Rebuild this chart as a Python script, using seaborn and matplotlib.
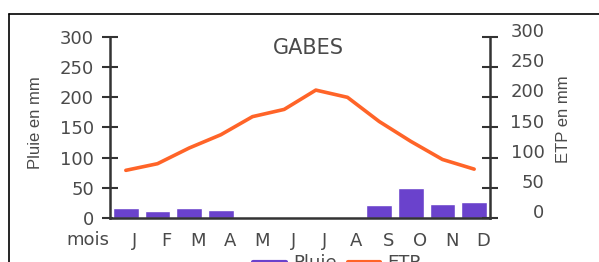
import numpy as np
import pandas as pd
import seaborn as sns
import matplotlib.pyplot as plt
from matplotlib.lines import Line2D
from matplotlib.transforms import ScaledTranslation

months = ['J', 'F', 'M', 'A', 'M', 'J', 'J', 'A', 'S', 'O', 'N', 'D']
pluie = [17, 12, 16, 13, 0, 0, 0, 0, 21, 49, 23, 26]
etp = [79, 90, 116, 138, 168, 180, 212, 200, 160, 127, 97, 81]
yticks = [0, 50, 100, 150, 200, 250, 300]

df = pd.DataFrame({'pos': np.arange(12), 'Pluie': pluie, 'ETP': etp})

sns.set_theme(style='white')
plt.rcParams['font.family'] = ['DejaVu Sans']

txt = '#4a4a4a'
axc = '#333333'
purple = '#6a42cc'
orange = '#ff6428'

fig = plt.figure(figsize=(5.99, 2.62), dpi=100)
ax = fig.add_axes([110 / 599, 1 - 218 / 262, 380 / 599, 181 / 262])

sns.barplot(data=df, x='pos', y='Pluie', color=purple, width=0.82,
            saturation=1, ax=ax)
sns.lineplot(data=df, x='pos', y='ETP', color=orange, linewidth=2.6, ax=ax)

ax.set_xlim(-0.5, 11.5)
ax.set_ylim(0, 300)
ax.set_xlabel('')
ax.set_ylabel('')
for s in ['top', 'right']:
    ax.spines[s].set_visible(False)
for s in ['left', 'bottom']:
    ax.spines[s].set_color(axc)
    ax.spines[s].set_linewidth(1.8)

ax.set_yticks(yticks)
ax.set_yticklabels([str(v) for v in yticks])
ax.tick_params(axis='y', direction='inout', length=11, width=1.5, color=axc,
               labelsize=13, labelcolor=txt, pad=6)

ax.set_xticks(np.arange(12) + 0.5)
ax.set_xticklabels([])
ax.tick_params(axis='x', which='major', direction='inout', length=6, width=1,
               color='#666666')
ax.set_xticks(np.arange(12), minor=True)
ax.set_xticklabels(months, minor=True)
ax.tick_params(axis='x', which='minor', length=0, labelsize=13,
               labelcolor=txt, pad=10)
for lab in ax.get_xticklabels(minor=True):
    lab.set_transform(lab.get_transform() +
                      ScaledTranslation(0.09, 0, fig.dpi_scale_trans))

ax2 = ax.twinx()
ax2.set_ylim(0, 300)
ax2.set_yticks(yticks)
ax2.set_yticklabels([str(v) for v in yticks])
for s in ['top', 'left', 'bottom']:
    ax2.spines[s].set_visible(False)
ax2.spines['right'].set_color(axc)
ax2.spines['right'].set_linewidth(1.8)
ax2.tick_params(axis='y', direction='inout', length=11, width=1.5, color=axc,
                labelsize=13, labelcolor=txt, pad=2)
for lab in ax2.get_yticklabels():
    lab.set_horizontalalignment('right')
    lab.set_transform(lab.get_transform() +
                      ScaledTranslation(0.44, 0.07, fig.dpi_scale_trans))

ax.set_title('GABES', color=txt, fontsize=15, x=0.521, y=0.86)

narrow = ['Liberation Sans', 'DejaVu Sans']
fig.text(35 / 599, 1 - 123 / 262, 'Pluie en mm', rotation=90, ha='center',
         va='center', color=txt, fontsize=12, family=narrow)
fig.text(563 / 599, 1 - 119 / 262, 'ETP en mm', rotation=90, ha='center',
         va='center', color=txt, fontsize=12, family=narrow)
fig.text(88 / 599, 1 - 240 / 262, 'mois', ha='center', va='center',
         color=txt, fontsize=13)

handles = [Line2D([], [], color=purple, lw=3), Line2D([], [], color=orange, lw=3)]
fig.legend(handles, ['Pluie', 'ETP'], loc='upper center', ncol=2,
           bbox_to_anchor=(337 / 599, 1 - 245 / 262), frameon=False,
           fontsize=13, labelcolor=txt, handlelength=1.8, handletextpad=0.4,
           columnspacing=0.6, borderpad=0)

# cadre du document scanne
fig.add_artist(Line2D([9 / 599, 1], [1 - 14 / 262, 1 - 14 / 262],
                      color='black', lw=1.2, transform=fig.transFigure))
fig.add_artist(Line2D([9 / 599, 9 / 599], [0, 1 - 14 / 262],
                      color='black', lw=1.2, transform=fig.transFigure))

fig.savefig('out.png', dpi=100)
